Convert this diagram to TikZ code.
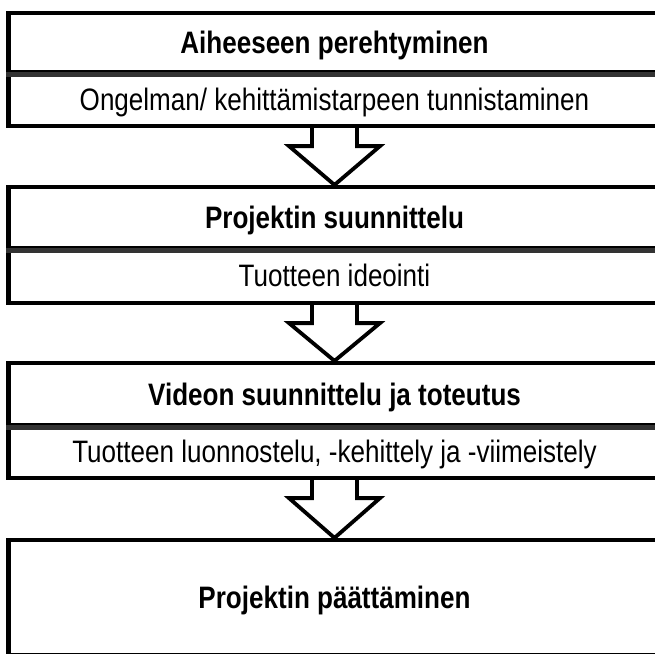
\documentclass[tikz,border=0pt]{standalone}
\usepackage{fontspec}
\setmainfont{Liberation Sans}[FakeStretch=0.84]
\begin{document}
\begin{tikzpicture}[x=1pt,y=-1pt,
  every node/.style={font=\fontsize{31pt}{35pt}\selectfont},
  boxpart/.style={draw=black, line width=4.2pt, rectangle, minimum width=652pt,
    inner sep=0pt, text height=22.2pt, text depth=0pt, anchor=center},
  headpart/.style={boxpart, font=\fontsize{31pt}{35pt}\selectfont\bfseries},
  subpart/.style={boxpart},
  divider/.style={draw=black!80, line width=4.8pt},
  blockarrow/.style={draw=black, line width=3.8pt, line join=miter, fill=white}
]
\clip (0,0) rectangle (655,653);
% box 1
\node[headpart, minimum height=59pt] (h1) at (334.5,42.5) {Aiheeseen perehtyminen};
\node[subpart, minimum height=54pt] (s1) at (334.5,99) {Ongelman/ kehittämistarpeen tunnistaminen};
\draw[divider] (h1.south west) -- (h1.south east);
% box 2
\node[headpart, minimum height=61pt] (h2) at (334.5,217.5) {Projektin suunnittelu};
\node[subpart, minimum height=55pt] (s2) at (334.5,275.5) {Tuotteen ideointi};
\draw[divider] (h2.south west) -- (h2.south east);
% box 3
\node[headpart, minimum height=62pt] (h3) at (334.5,394) {Videon suunnittelu ja toteutus};
\node[subpart, minimum height=53pt] (s3) at (334.5,451.5) {Tuotteen luonnostelu, -kehittely ja -viimeistely};
\draw[divider] (h3.south west) -- (h3.south east);
% box 4
\node[headpart, minimum height=115pt] (h4) at (334.5,597.5) {Projektin päättäminen};
% block arrows
\foreach \a/\b in {s1/h2, s2/h3, s3/h4}{
  \draw[blockarrow] ([xshift=-22.5pt]\a.south) -- ([xshift=-22.5pt,yshift=-18pt]\a.south)
    -- ([xshift=-45.5pt,yshift=-18pt]\a.south) -- (\b.north)
    -- ([xshift=45.5pt,yshift=-18pt]\a.south) -- ([xshift=22.5pt,yshift=-18pt]\a.south)
    -- ([xshift=22.5pt]\a.south);
}
\end{tikzpicture}
\end{document}
